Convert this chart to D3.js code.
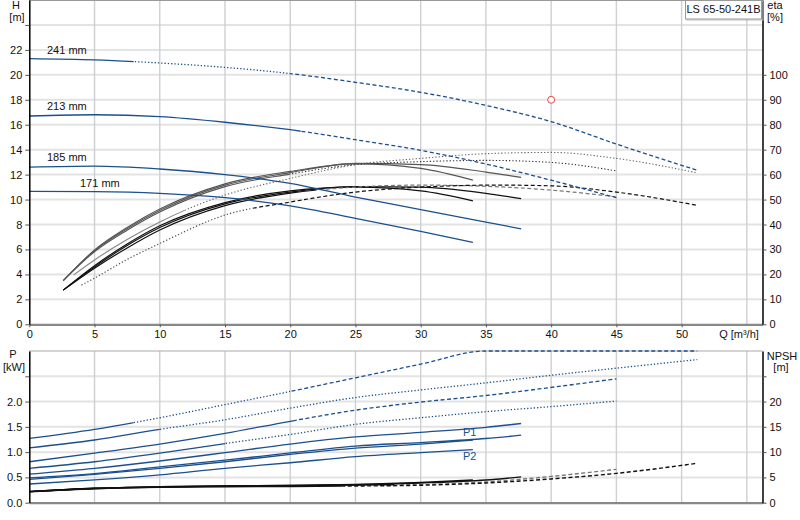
<!DOCTYPE html>
<html>
<head>
<meta charset="utf-8">
<script src="https://cdn.jsdelivr.net/npm/d3@7"></script>
<style>
  body { margin: 0; background: #fff; }
  svg { font-family: "Liberation Sans", Arial, sans-serif; font-size: 11px; }
</style>
</head>
<body>
<svg id="chart" width="800" height="520"></svg>
<script>
// ---- data ----
const qTicks = [0, 5, 10, 15, 20, 25, 30, 35, 40, 45, 50];
const qGrid = [5, 10, 15, 20, 25, 30, 35, 40, 45, 50, 55];
const hTicks = [0, 2, 4, 6, 8, 10, 12, 14, 16, 18, 20, 22, 24];
const etaTicks = [0, 10, 20, 30, 40, 50, 60, 70, 80, 90, 100];
const pTicks = [0, 0.5, 1.0, 1.5, 2.0, 2.5];
const npshTicks = [0, 5, 10, 15, 20, 25];

// head curves [Q, H]
const h171 = [[0, 10.65], [5, 10.63], [10, 10.5], [15, 10.15], [20, 9.5], [25, 8.5], [30, 7.45], [34, 6.57]];
const h185 = [[0, 12.6], [5, 12.68], [10, 12.45], [15, 12.0], [20, 11.3], [25, 10.2], [30, 9.2], [35, 8.2], [37.7, 7.65]];
const h213 = [[0, 16.7], [5, 16.8], [10, 16.65], [15, 16.2], [20, 15.6], [25, 14.8], [30, 13.95], [35, 12.85], [40, 11.55], [45, 10.15]];
const h241 = [[0, 21.3], [5, 21.2], [10, 20.95], [15, 20.6], [20, 20.1], [25, 19.4], [30, 18.6], [35, 17.55], [40, 16.25], [45, 14.45], [51.2, 12.35]];

// pump efficiency [Q, eta %]
const e171 = [[2.6, 17.5], [5, 29.8], [7.5, 38.8], [10, 46.2], [15, 56.3], [20, 61.3], [25, 64.3], [30, 62.5], [34, 57.8]];
const e185 = [[2.6, 17.5], [5, 29.5], [7.5, 38.3], [10, 45.6], [15, 55.8], [20, 60.8], [25, 64.5], [30, 64], [35, 61], [37.7, 58.9]];
const e213 = [[2.6, 17.5], [5, 29.1], [7.5, 37.7], [10, 45], [15, 55.2], [20, 60.2], [25, 64], [30, 65.2], [35, 65.7], [40, 64.9], [45, 61.5]];
const e241 = [[3.4, 19.8], [5, 25.8], [7.5, 34], [10, 41], [12.5, 47], [15, 51.8], [20, 58.5], [25, 64], [30, 66.5], [35, 68.4], [40, 68.9], [45, 66.5], [51.2, 60.7]];

// total efficiency [Q, eta %]
const t171 = [[2.6, 13.7], [5, 23.5], [7.5, 32.2], [10, 39.5], [15, 48.8], [20, 53.5], [25, 55], [30, 53.5], [34, 49.5]];
const t185 = [[2.6, 13.7], [5, 23], [7.5, 31.6], [10, 38.8], [15, 48.3], [20, 53], [25, 55.2], [30, 55], [35, 52.5], [37.7, 50.4]];
const t213 = [[2.6, 13.7], [5, 22.5], [7.5, 30.6], [10, 37.8], [15, 47.6], [20, 52.6], [25, 55], [30, 55.8], [36, 55.1], [40, 53.8], [45, 51.1]];
const t241 = [[4, 15.7], [5, 18.5], [7.5, 26], [10, 32.4], [15, 43.8], [20, 49], [25, 53], [30, 55], [36, 55.8], [40, 55.5], [45, 53], [51.2, 47.7]];

// power P1 / P2 [Q, kW]
const p1_241 = [[0, 1.27], [5, 1.45], [10, 1.68], [15, 1.94], [20, 2.2], [25, 2.47], [30, 2.74], [35, 3.0], [40, 3.2], [45, 3.4], [51.2, 3.6]];
const p2_241 = [[0, 1.085], [5, 1.24], [10, 1.45], [15, 1.64], [20, 1.87], [25, 2.08], [30, 2.23], [35, 2.37], [40, 2.52], [45, 2.66], [51.2, 2.83]];
const p1_213 = [[0, 0.81], [5, 0.98], [10, 1.16], [15, 1.37], [20, 1.61], [25, 1.83], [30, 1.99], [35, 2.12], [40, 2.28], [45, 2.45]];
const p2_213 = [[0, 0.68], [5, 0.81], [10, 0.98], [15, 1.17], [20, 1.35], [25, 1.55], [30, 1.68], [35, 1.8], [40, 1.9], [45, 2.01]];
const p1_185 = [[0, 0.566], [5, 0.68], [10, 0.825], [15, 0.99], [20, 1.16], [25, 1.3], [30, 1.39], [35, 1.49], [37.7, 1.566]];
const p2_185 = [[0, 0.49], [5, 0.575], [10, 0.71], [15, 0.84], [20, 0.985], [25, 1.12], [30, 1.19], [35, 1.27], [37.7, 1.335]];
const p1_171 = [[0, 0.46], [5, 0.56], [10, 0.68], [15, 0.81], [20, 0.955], [25, 1.08], [30, 1.16], [34, 1.24]];
const p2_171 = [[0, 0.37], [5, 0.45], [10, 0.55], [15, 0.68], [20, 0.79], [25, 0.91], [30, 0.99], [34, 1.05]];

// NPSH [Q, m]
const n171 = [[0, 2.2], [5, 2.85], [10, 3.15], [15, 3.3], [20, 3.4], [25, 3.6], [30, 4.0], [34, 4.5]];
const n185 = [[0, 2.2], [5, 2.85], [10, 3.15], [15, 3.3], [20, 3.4], [25, 3.55], [30, 3.9], [35, 4.5], [37.7, 5.1]];
const n213 = [[0, 2.2], [5, 2.8], [10, 3.1], [15, 3.25], [20, 3.35], [25, 3.5], [30, 3.6], [35, 4.1], [40, 5.2], [45, 6.6]];
const n241 = [[0, 2.15], [5, 2.75], [10, 3.05], [15, 3.15], [20, 3.2], [25, 3.3], [30, 3.45], [35, 3.9], [40, 4.7], [45, 5.8], [51.2, 7.8]];

const dutyPoint = [40, 18];

// ---- layout ----
const svg = d3.select('#chart');
const defs = svg.append('defs');

const blue = '#1b4f8e';
const dashes = { solid: null, dotted: '1.3,2', dashed: '4,2.5' };

let x = d3.scaleLinear().domain([0, 56.2]).range([29.3, 762.5]);
let yH = d3.scaleLinear().domain([0, 26]).range([324.3, 0]);
let yEta = d3.scaleLinear().domain([0, 130]).range([324.3, 0]);
// power above the frame is drawn along its top edge, as in the original
let yP = d3.scaleLinear().domain([0, 3]).range([502.7, 351]).clamp(true);
let yN = d3.scaleLinear().domain([0, 30]).range([502.7, 351]);

// gridlines
function grid(yScale, yVals, y0, y1) {
  let g = svg.append('g');
  g.selectAll('.hg').data(yVals).enter().append('line')
    .attr('x1', x.range()[0]).attr('x2', x.range()[1])
    .attr('y1', d => yScale(d)).attr('y2', d => yScale(d))
    .attr('stroke', '#e3e3e3').attr('stroke-width', 2);
  g.selectAll('.vg').data(qGrid).enter().append('line')
    .attr('x1', d => x(d)).attr('x2', d => x(d))
    .attr('y1', y0).attr('y2', y1)
    .attr('stroke', '#cdd0d2').attr('stroke-width', 1.4);
}
grid(yH, hTicks.filter(d => d > 0), 0, 324.3);
grid(yP, pTicks.filter(d => d > 0), 351, 502.7);

// top borders
svg.append('line').attr('x1', x.range()[0]).attr('x2', x.range()[1]).attr('y1', 0.5).attr('y2', 0.5)
  .attr('stroke', '#999');
svg.append('line').attr('x1', x.range()[0]).attr('x2', x.range()[1]).attr('y1', 351).attr('y2', 351)
  .attr('stroke', '#aaa');

// curves, split into styled pieces with clip rects
let clipId = 0;
function drawCurve(g, pts, yScale, segs, color, width) {
  let line = d3.line()
    .x(d => x(d[0]))
    .y(d => yScale(d[1]))
    .curve(d3.curveMonotoneX);
  segs.forEach(s => {
    let id = 'clip' + (clipId++);
    let x0 = x(s[0]) - (s[0] <= pts[0][0] ? 2 : 0);
    let x1 = x(s[1]) + (s[1] >= pts[pts.length - 1][0] ? 2 : 0);
    defs.append('clipPath').attr('id', id).append('rect')
      .attr('x', x0).attr('width', x1 - x0)
      .attr('y', g.attr('data-top')).attr('height', g.attr('data-h'));
    g.append('path')
      .attr('d', line(pts))
      .attr('clip-path', 'url(#' + id + ')')
      .attr('fill', 'none')
      .attr('stroke', s[3] || color)
      .attr('stroke-width', width)
      .attr('stroke-dasharray', dashes[s[2]]);
  });
}

let topPanel = svg.append('g').attr('data-top', 0).attr('data-h', 324.3);
let bottomPanel = svg.append('g').attr('data-top', 349).attr('data-h', 153.7);

// efficiency curves
drawCurve(topPanel, e171, yEta, [[2.6, 34, 'solid']], '#555', 1.1);
drawCurve(topPanel, e185, yEta, [[2.6, 37.7, 'solid']], '#555', 1.1);
drawCurve(topPanel, e213, yEta, [[2.6, 20, 'solid'], [20, 45, 'dotted', '#333']], '#555', 1.1);
drawCurve(topPanel, e241, yEta, [[3.4, 12, 'solid', '#888'], [12, 51.2, 'dotted', '#666']], '#555', 1.1);
drawCurve(topPanel, t171, yEta, [[2.6, 34, 'solid']], '#111', 1.2);
drawCurve(topPanel, t185, yEta, [[2.6, 37.7, 'solid']], '#111', 1.2);
drawCurve(topPanel, t213, yEta, [[2.6, 22, 'solid'], [22, 45, 'dashed', '#777']], '#111', 1.2);
drawCurve(topPanel, t241, yEta, [[4, 17, 'dotted', '#555'], [17, 51.2, 'dashed']], '#111', 1.2);

// head curves
drawCurve(topPanel, h171, yH, [[0, 34, 'solid']], blue, 1.3);
drawCurve(topPanel, h185, yH, [[0, 37.7, 'solid']], blue, 1.3);
drawCurve(topPanel, h213, yH, [[0, 20.8, 'solid'], [20.8, 45, 'dashed']], blue, 1.3);
drawCurve(topPanel, h241, yH, [[0, 8, 'solid'], [8, 20, 'dotted'], [20, 51.2, 'dashed']], blue, 1.3);

// power curves
drawCurve(bottomPanel, p1_241, yP, [[0, 8, 'solid'], [8, 20, 'dotted'], [20, 51.2, 'dashed']], blue, 1.3);
drawCurve(bottomPanel, p2_241, yP, [[0, 10, 'solid'], [10, 51.2, 'dotted']], blue, 1.3);
drawCurve(bottomPanel, p1_213, yP, [[0, 20.5, 'solid'], [20.5, 45, 'dashed']], blue, 1.3);
drawCurve(bottomPanel, p2_213, yP, [[0, 15, 'solid'], [15, 45, 'dotted']], blue, 1.3);
drawCurve(bottomPanel, p1_185, yP, [[0, 37.7, 'solid']], blue, 1.3);
drawCurve(bottomPanel, p2_185, yP, [[0, 37.7, 'solid']], blue, 1.3);
drawCurve(bottomPanel, p1_171, yP, [[0, 34, 'solid']], blue, 1.3);
drawCurve(bottomPanel, p2_171, yP, [[0, 34, 'solid']], blue, 1.3);

// NPSH curves
drawCurve(bottomPanel, n171, yN, [[0, 34, 'solid']], '#111', 1.4);
drawCurve(bottomPanel, n185, yN, [[0, 37.7, 'solid']], '#111', 1.4);
drawCurve(bottomPanel, n213, yN, [[0, 28, 'solid'], [28, 45, 'dashed', '#777']], '#111', 1.4);
drawCurve(bottomPanel, n241, yN, [[0, 24, 'solid'], [24, 51.2, 'dashed']], '#111', 1.4);

// axes
function styleAxis(sel, color, w) {
  sel.select('.domain').attr('stroke', color).attr('stroke-width', w);
  sel.selectAll('.tick line').attr('stroke', '#555');
  sel.selectAll('.tick text').attr('fill', '#111').style('font-size', '11px')
    .style('font-family', '"Liberation Sans", Arial, sans-serif');
}

svg.append('g').attr('transform', 'translate(0,324.3)')
  .call(d3.axisBottom(x).tickValues(qTicks).tickSize(3).tickSizeOuter(0))
  .call(s => styleAxis(s, '#888', 2.2));
svg.append('g').attr('transform', 'translate(0,502.7)')
  .call(d3.axisBottom(x).tickValues([]).tickSizeOuter(0))
  .call(s => styleAxis(s, '#888', 2.2));

svg.append('g').attr('transform', 'translate(' + x.range()[0] + ',0)')
  .call(d3.axisLeft(yH).tickValues(hTicks).tickSize(4).tickSizeOuter(0)
    .tickFormat(d => d === 24 ? '' : d))
  .call(s => styleAxis(s, '#000', 1.5));
svg.append('g').attr('transform', 'translate(' + x.range()[1] + ',0)')
  .call(d3.axisRight(yEta).tickValues(etaTicks).tickSize(4).tickSizeOuter(0))
  .call(s => styleAxis(s, '#000', 1.5));

svg.append('g').attr('transform', 'translate(' + x.range()[0] + ',0)')
  .call(d3.axisLeft(yP).tickValues(pTicks).tickSize(4).tickSizeOuter(0)
    .tickFormat(d => d === 2.5 ? '' : d3.format('.1f')(d)))
  .call(s => styleAxis(s, '#000', 1.5));
svg.append('g').attr('transform', 'translate(' + x.range()[1] + ',0)')
  .call(d3.axisRight(yN).tickValues(npshTicks).tickSize(4).tickSizeOuter(0)
    .tickFormat(d => d === 25 ? '' : d))
  .call(s => styleAxis(s, '#000', 1.5));

// duty point
svg.append('circle')
  .attr('cx', x(dutyPoint[0])).attr('cy', yH(dutyPoint[1])).attr('r', 3.5)
  .attr('fill', '#fff').attr('stroke', '#e8474c').attr('stroke-width', 1);

// texts
function label(txt, tx, ty, anchor, color) {
  svg.append('text').attr('x', tx).attr('y', ty)
    .attr('text-anchor', anchor || 'start')
    .attr('fill', color || '#111').text(txt);
}
label('H', 16, 9, 'middle');
label('[m]', 17, 21, 'middle');
label('eta', 775, 9, 'middle');
label('[%]', 775, 21, 'middle');
label('P', 13, 358, 'middle');
label('[kW]', 14, 371, 'middle');
label('NPSH', 782, 360, 'middle');
label('[m]', 781, 371, 'middle');
label('Q [m³/h]', 739, 338, 'middle');

label('241 mm', 47, 54);
label('213 mm', 47, 110);
label('185 mm', 47, 161);
label('171 mm', 80, 187);

label('P1', 463, 436, 'start', blue);
label('P2', 463, 460, 'start', blue);

svg.append('rect').attr('x', 687).attr('y', 1.5).attr('width', 76).attr('height', 18.5)
  .attr('fill', 'none').attr('stroke', '#bbb');
svg.append('rect').attr('x', 685.5).attr('y', 0.5).attr('width', 76).attr('height', 18.5)
  .attr('fill', '#fff').attr('stroke', '#999');
label('LS 65-50-241B', 723.5, 13, 'middle');
</script>
</body>
</html>
